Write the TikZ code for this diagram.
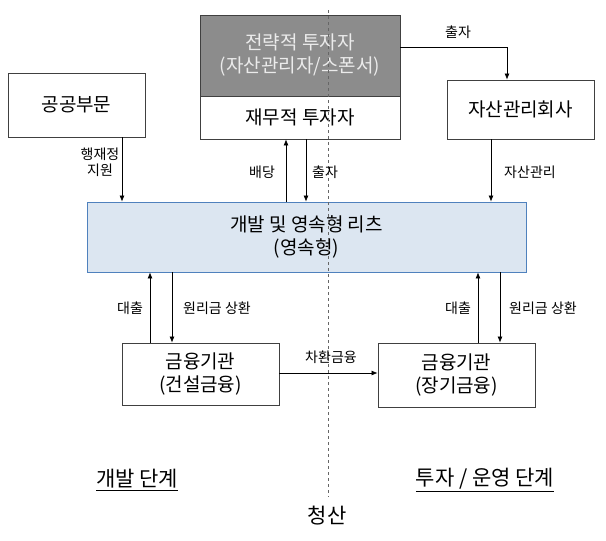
\documentclass[tikz,border=0pt]{standalone}
\usepackage{fontspec}
\setmainfont{Noto Sans CJK KR}
\usetikzlibrary{arrows.meta}
\definecolor{rfill}{RGB}{220,230,241}
\definecolor{rdraw}{RGB}{79,129,189}
\begin{document}
\begin{tikzpicture}[x=1pt,y=-1pt,
 box/.style={draw=black!75,line width=0.8pt,fill=white,inner sep=0pt,align=center,font=\fontsize{19}{22}\selectfont},
 lab/.style={font=\fontsize{14}{16}\selectfont,align=center},
 arr/.style={-{Latex[length=6pt,width=5pt]},line width=0.7pt},
 big/.style={font=\fontsize{21}{24}\selectfont}]
\useasboundingbox (0,0) rectangle (606,541);
\node[box,minimum width=137,minimum height=64] (pub) at (76.5,105) {공공부문};
\node[box,fill=black!45,text=black!8,minimum width=200,minimum height=81,font=\fontsize{19}{23}\selectfont] (si) at (300,55.5) {전략적 투자자\\(자산관리자/스폰서)};
\node[box,minimum width=200,minimum height=43] (fi) at (300,117.5) {재무적 투자자};
\node[box,minimum width=147,minimum height=59] (amc) at (520.5,109.5) {자산관리회사};
\node[box,draw=rdraw,fill=rfill,minimum width=439,minimum height=70,font=\fontsize{19}{23}\selectfont] (reit) at (306.5,237) {개발 및 영속형 리츠\\(영속형)};
\node[box,minimum width=157,minimum height=62,font=\fontsize{19}{23}\selectfont] (b1) at (200.5,374) {금융기관\\(건설금융)};
\node[box,minimum width=157,minimum height=64,font=\fontsize{19}{23}\selectfont] (b2) at (456.5,375) {금융기관\\(장기금융)};
\draw[dashed,black!60,line width=0.8pt] (328,10) coordinate (dt) -- (328,497) coordinate (db);
\draw[arr] (si.east |- 0,47) -| (amc.north -| 507,0);
\node[lab] at (458,32) {출자};
\draw[arr] (pub.south -| 122,0) -- (reit.north -| 122,0);
\node[lab] at (100,162) {행재정\\지원};
\draw[arr] (reit.north -| 286,0) -- (fi.south -| 286,0);
\node[lab] at (262,172) {배당};
\draw[arr] (fi.south -| 306,0) -- (reit.north -| 306,0);
\node[lab] at (325,172) {출자};
\draw[arr] (amc.south -| 491,0) -- (reit.north -| 491,0);
\node[lab] at (530,172) {자산관리};
\draw[arr] (b1.north -| 150,0) -- (reit.south -| 150,0);
\draw[arr] (reit.south -| 172,0) -- (b1.north -| 172,0);
\node[lab] at (130,308) {대출};
\node[lab] at (217,308) {원리금 상환};
\draw[arr] (b2.north -| 478,0) -- (reit.south -| 478,0);
\draw[arr] (reit.south -| 500,0) -- (b2.north -| 500,0);
\node[lab] at (458,308) {대출};
\node[lab] at (543,308) {원리금 상환};
\draw[arr] (b1.east |- 0,373) -- (b2.west |- 0,373);
\node[lab] at (331,357) {차환금융};
\node[big] (p1) at (137,480) {\underline{개발 단계}};
\node[big] (p2) at (485,480) {\underline{투자 / 운영 단계}};
\node[big] (p3) at (327,516) {청산};
\end{tikzpicture}
\end{document}
